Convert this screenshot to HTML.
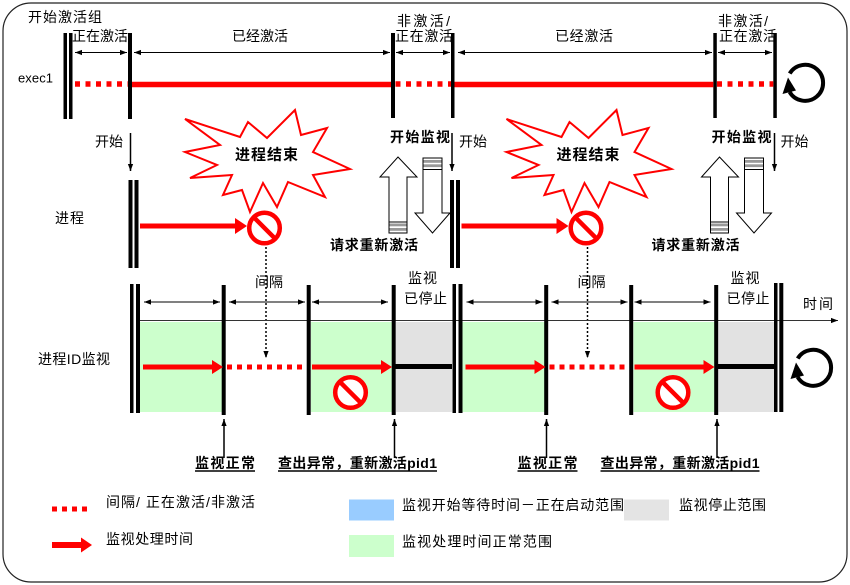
<!DOCTYPE html>
<html><head><meta charset="utf-8"><style>
html,body{margin:0;padding:0;background:#fff;}
svg{display:block;}
text{font-family:"Liberation Sans","Noto Sans CJK SC",sans-serif;font-size:14px;fill:#000;dominant-baseline:central;}
.b{font-weight:bold;}
</style></head><body>
<svg width="850" height="585" viewBox="0 0 850 585" xmlns="http://www.w3.org/2000/svg">
<defs>
<marker id="a" viewBox="0 0 8 6" refX="8" refY="3" markerWidth="7" markerHeight="6" markerUnits="userSpaceOnUse" orient="auto-start-reverse"><path d="M0,0L8,3L0,6z" fill="#000"/></marker>
</defs>

<!-- border -->
<rect x="3" y="3" width="844" height="579" rx="28" ry="28" fill="#fff" stroke="#222" stroke-width="1.2"/>

<!-- ===== TOP ROW (exec1) ===== -->
<text x="28" y="17" textLength="74" lengthAdjust="spacing">开始激活组</text>
<text x="72" y="36" textLength="56" lengthAdjust="spacing">正在激活</text>
<text x="232" y="36" textLength="56" lengthAdjust="spacing">已经激活</text>
<text x="397" y="21" textLength="53" lengthAdjust="spacing">非激活/</text>
<text x="395" y="36" textLength="58" lengthAdjust="spacing">正在激活</text>
<text x="555" y="36" textLength="58" lengthAdjust="spacing">已经激活</text>
<text x="718" y="21" textLength="50" lengthAdjust="spacing">非激活/</text>
<text x="719" y="36" textLength="58" lengthAdjust="spacing">正在激活</text>
<text x="18" y="78" style="font-size:13px" textLength="35" lengthAdjust="spacing">exec1</text>

<g fill="#000">
<rect x="63.5" y="33" width="3.5" height="86"/>
<rect x="69" y="33" width="3.5" height="86"/>
<rect x="128" y="33" width="4" height="86"/>
<rect x="391" y="33" width="4" height="85"/>
<rect x="451" y="33" width="3.5" height="85"/>
<rect x="713.3" y="33" width="3.5" height="85"/>
<rect x="773.3" y="33" width="3.5" height="85"/>
</g>

<g stroke="#000" stroke-width="1" marker-start="url(#a)" marker-end="url(#a)">
<line x1="75" y1="52.5" x2="127" y2="52.5"/>
<line x1="134" y1="52.5" x2="390" y2="52.5"/>
<line x1="396" y1="52.5" x2="450" y2="52.5"/>
<line x1="458" y1="52.5" x2="712" y2="52.5"/>
<line x1="718" y1="52.5" x2="772" y2="52.5"/>
</g>

<g stroke="#ff0000" stroke-width="5.5">
<line x1="75" y1="84" x2="128" y2="84" stroke-dasharray="5 5.5"/>
<line x1="132" y1="84.5" x2="391" y2="84.5"/>
<line x1="395.5" y1="84" x2="451" y2="84" stroke-dasharray="5 5.5"/>
<line x1="454.5" y1="84.5" x2="713.3" y2="84.5"/>
<line x1="717" y1="84" x2="773.3" y2="84" stroke-dasharray="5 5.5"/>
</g>

<!-- rotate icon top -->
<g id="rot">
<path d="M789.7,73.5 A18,18 0 1 1 789.6,92" fill="none" stroke="#000" stroke-width="4"/>
<polygon points="782.5,94 796,90.5 788,77.5" fill="#000"/>
</g>

<!-- ===== PROCESS ROW ===== -->
<text x="95" y="141.5" textLength="28" lengthAdjust="spacing">开始</text>
<text x="55" y="218" textLength="29" lengthAdjust="spacing">进程</text>

<g id="proc">
<line x1="130.5" y1="133" x2="130.5" y2="171" stroke="#000" stroke-width="1.5" marker-end="url(#a)"/>
<rect x="128.5" y="180" width="4" height="88" fill="#000"/>
<rect x="134.5" y="180" width="4" height="88" fill="#000"/>
<polygon points="185,119 240,137 248,122 267,138 295,110 301,135 327,128 313,152 350,169 313,175 325,197 288,182 277,207 263,183 250,212 242,190 223,195 232,175 190,178 217,165 185,152 220,145" fill="#fff" stroke="#ff0000" stroke-width="2"/>
<text class="b" x="235" y="155" style="font-size:15px" textLength="63" lengthAdjust="spacing">进程结束</text>
<rect x="140" y="223.5" width="96" height="5" fill="#ff0000"/>
<polygon points="235,218 247,226 235,234" fill="#ff0000"/>
<circle cx="264.5" cy="228" r="15.3" fill="#fff" stroke="#ff0000" stroke-width="4.5"/>
<line x1="253.7" y1="217.2" x2="275.3" y2="238.8" stroke="#ff0000" stroke-width="4.5"/>
<line x1="266" y1="247" x2="266" y2="358" stroke="#000" stroke-width="1.5" stroke-dasharray="2 2" marker-end="url(#a)"/>
</g>
<use href="#proc" transform="translate(321.5,0)"/>

<!-- third 开始 arrow -->
<line x1="774.5" y1="133" x2="774.5" y2="171" stroke="#000" stroke-width="1.5" marker-end="url(#a)"/>

<g id="hol">
<g fill="#fff" stroke="#000" stroke-width="1">
<polygon points="398,157 417,177 407,177 407,233 389,233 389,177 380,177"/>
<polygon points="423,158 442,158 442,213 450,213 432.5,233 415,213 423,213"/>
</g>
<g fill="#999">
<rect x="389.5" y="223.5" width="17" height="2.8"/>
<rect x="389.5" y="228" width="17" height="2.8"/>
<rect x="423.5" y="160" width="18" height="2.8"/>
<rect x="423.5" y="164.3" width="18" height="2.8"/>
</g>
<line x1="389" y1="222" x2="407" y2="222" stroke="#000" stroke-width="1"/>
<line x1="423" y1="169.5" x2="442" y2="169.5" stroke="#000" stroke-width="1"/>
<text class="b" x="390" y="137" textLength="60" lengthAdjust="spacing">开始监视</text>
<text x="459" y="141.5" textLength="28" lengthAdjust="spacing">开始</text>
<text class="b" x="330" y="245" textLength="88" lengthAdjust="spacing">请求重新激活</text>
</g>
<use href="#hol" transform="translate(321.5,0)"/>

<!-- ===== MONITOR ROW ===== -->
<text x="38" y="359" textLength="72" lengthAdjust="spacing">进程ID监视</text>
<text x="803" y="304" textLength="30" lengthAdjust="spacing">时间</text>

<line x1="140" y1="320.5" x2="838" y2="320.5" stroke="#333" stroke-width="1" marker-end="url(#a)"/>

<g id="mon">
<rect x="140" y="322" width="82" height="90" fill="#ccffcc"/>
<rect x="311" y="322" width="81" height="90" fill="#ccffcc"/>
<rect x="396" y="322" width="56" height="90" fill="#e2e2e2"/>
<rect x="130" y="284" width="3.5" height="129" fill="#000"/>
<rect x="136" y="284" width="4" height="129" fill="#000"/>
<rect x="221.7" y="285" width="4" height="130" fill="#000"/>
<rect x="306.7" y="285" width="4" height="130" fill="#000"/>
<rect x="391.7" y="285" width="4" height="130" fill="#000"/>
<g stroke="#000" stroke-width="1" marker-start="url(#a)" marker-end="url(#a)">
<line x1="144" y1="302" x2="220" y2="302"/>
<line x1="229" y1="302" x2="305" y2="302"/>
<line x1="312" y1="302" x2="388" y2="302"/>
</g>
<text x="255" y="282" textLength="28" lengthAdjust="spacing">间隔</text>
<text x="408" y="278" textLength="29" lengthAdjust="spacing">监视</text>
<text x="404" y="298.5" textLength="43" lengthAdjust="spacing">已停止</text>
<rect x="143" y="364.5" width="70" height="5" fill="#ff0000"/>
<polygon points="212,360 223,367 212,374" fill="#ff0000"/>
<line x1="227" y1="367" x2="303" y2="367" stroke="#ff0000" stroke-width="5" stroke-dasharray="5 5"/>
<rect x="312" y="364.5" width="70" height="5" fill="#ff0000"/>
<polygon points="381,360 392,367 381,374" fill="#ff0000"/>
<rect x="395" y="364" width="57" height="5" fill="#000"/>
<circle cx="350.5" cy="392.5" r="15.3" fill="#fff" stroke="#ff0000" stroke-width="4.5"/>
<line x1="339.7" y1="381.7" x2="361.3" y2="403.3" stroke="#ff0000" stroke-width="4.5"/>
<line x1="224" y1="458" x2="224" y2="419" stroke="#000" stroke-width="1.5" marker-end="url(#a)"/>
<line x1="394.5" y1="458" x2="394.5" y2="419" stroke="#000" stroke-width="1.5" marker-end="url(#a)"/>
<text class="b" x="195" y="463" textLength="60" lengthAdjust="spacing">监视正常</text>
<line x1="195" y1="471" x2="255" y2="471" stroke="#000" stroke-width="1.5"/>
<text class="b" x="278" y="463" textLength="159" lengthAdjust="spacing">查出异常，重新激活pid1</text>
<line x1="278" y1="471" x2="437" y2="471" stroke="#000" stroke-width="1.5"/>
</g>
<use href="#mon" transform="translate(322.5,0)"/>

<rect x="774" y="283" width="3.5" height="129" fill="#000"/>
<rect x="779.3" y="283" width="4" height="129" fill="#000"/>

<use href="#rot" transform="translate(8,285)"/>

<!-- ===== LEGEND ===== -->
<line x1="52" y1="509" x2="92" y2="509" stroke="#ff0000" stroke-width="5" stroke-dasharray="5 5"/>
<text x="106" y="502" textLength="149" lengthAdjust="spacing">间隔/ 正在激活/非激活</text>
<rect x="52" y="542" width="30" height="6" fill="#ff0000"/>
<polygon points="81,537.5 92,545 81,552.5" fill="#ff0000"/>
<text x="106" y="539" textLength="87" lengthAdjust="spacing">监视处理时间</text>

<rect x="349" y="499.5" width="45" height="21" fill="#99ccff"/>
<text x="402" y="505" textLength="222" lengthAdjust="spacing">监视开始等待时间－正在启动范围</text>
<rect x="624" y="499.5" width="45" height="21" fill="#e4e4e4"/>
<text x="679" y="505" textLength="87" lengthAdjust="spacing">监视停止范围</text>
<rect x="349" y="535" width="45" height="22" fill="#ccffcc"/>
<text x="402" y="541.5" textLength="150" lengthAdjust="spacing">监视处理时间正常范围</text>
</svg>
</body></html>
